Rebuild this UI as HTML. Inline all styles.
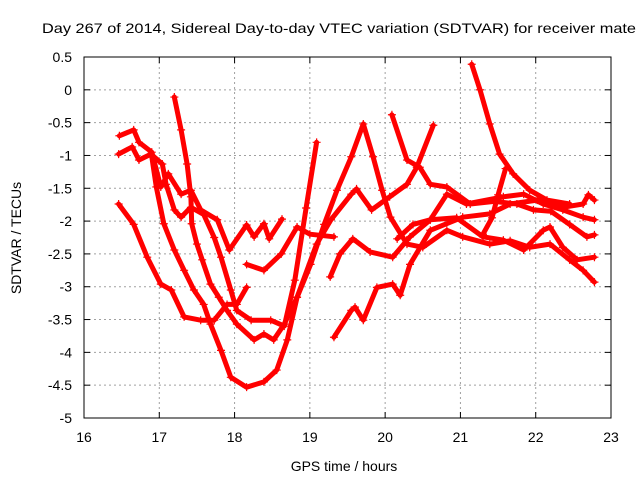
<!DOCTYPE html>
<html><head><meta charset="utf-8"><style>
html,body{margin:0;padding:0;background:#fff;}
svg{display:block;font-family:"Liberation Sans",sans-serif;}
</style></head><body>
<svg id="chart" width="640" height="480" viewBox="0 0 640 480" xmlns="http://www.w3.org/2000/svg">
<rect width="640" height="480" fill="#fff"/>
<text x="42" y="33" font-size="14" textLength="594" lengthAdjust="spacingAndGlyphs">Day 267 of 2014, Sidereal Day-to-day VTEC variation (SDTVAR) for receiver mate</text>
<g id="grid"></g>
<g id="ticks"></g>
<g id="series"></g>
<rect x="84" y="57" width="527" height="361" fill="none" stroke="#000" stroke-width="1"/>
<text x="344" y="471" font-size="14" text-anchor="middle">GPS time / hours</text>
<text transform="translate(21,238) rotate(-90)" font-size="14" text-anchor="middle">SDTVAR / TECUs</text>
</svg>
<script>
const xTicks=[16,17,18,19,20,21,22,23];
const yTicks=[0.5,0,-0.5,-1,-1.5,-2,-2.5,-3,-3.5,-4,-4.5,-5];
const track1T=[16.47,16.66,16.73,16.9,17.02,17.12,17.29,17.42,17.55,17.77,17.93,18.16,18.26,18.39,18.46,18.63];
const track1V=[-0.7,-0.61,-0.8,-0.95,-1.48,-1.28,-1.59,-1.53,-1.83,-1.98,-2.44,-2.06,-2.24,-2.04,-2.27,-1.97];
const track2T=[16.46,16.64,16.73,16.89,17.04,17.09,17.2,17.29,17.42,17.59,17.73,17.82,17.95,18.03,18.22,18.48,18.66,18.8,18.95,19.09];
const track2V=[-0.98,-0.87,-1.07,-0.98,-1.13,-1.44,-1.83,-1.94,-1.79,-1.9,-2.25,-2.55,-3.05,-3.36,-3.51,-3.51,-3.6,-2.9,-1.8,-0.8];
const track3T=[17.2,17.29,17.37,17.42,17.43,17.5,17.57,17.68,17.79,17.9,18.03,18.26,18.39,18.52,18.66,18.83,19.01,19.19,19.36,19.55,19.71,19.84,19.96,20.07,20.29,20.5,20.82,21.03,21.39,21.66,21.92,22.19,22.45,22.63,22.78];
const track3V=[-0.11,-0.61,-1.13,-1.63,-2.04,-2.35,-2.59,-2.96,-3.16,-3.36,-3.57,-3.81,-3.72,-3.81,-3.57,-3.16,-2.66,-2.05,-1.53,-1.02,-0.52,-1.02,-1.53,-1.94,-2.35,-2.4,-2.14,-2.24,-2.35,-2.3,-2.4,-2.35,-2.59,-2.75,-2.93];
const track4T=[16.46,16.66,16.84,17.02,17.16,17.33,17.55,17.73,17.9,18.03,18.16];
const track4V=[-1.74,-2.05,-2.55,-2.96,-3.05,-3.46,-3.51,-3.51,-3.27,-3.27,-3.01];
const track5T=[16.9,16.96,17.06,17.2,17.33,17.46,17.59,17.68,17.82,17.95,18.16,18.39,18.56,18.7,18.83,19.09,19.28,19.55,19.62,19.82,20.06,20.29,20.42,20.64];
const track5V=[-1.02,-1.48,-2.04,-2.44,-2.75,-3.05,-3.27,-3.57,-3.97,-4.38,-4.53,-4.45,-4.27,-3.81,-3.16,-2.35,-1.98,-1.59,-1.51,-1.83,-1.63,-1.44,-1.18,-0.54];
const track6T=[18.16,18.39,18.62,18.83,19.0,19.32];
const track6V=[-2.66,-2.75,-2.5,-2.09,-2.2,-2.24];
const track7T=[19.32,19.55,19.6,19.71,19.89,20.1,20.2,20.33,20.6,21.03,21.39,21.66,22.02,22.36,22.63,22.7,22.78];
const track7V=[-3.77,-3.36,-3.31,-3.51,-3.01,-2.96,-3.13,-2.66,-2.14,-1.94,-1.89,-1.74,-1.68,-1.79,-1.74,-1.6,-1.68];
const track8T=[19.27,19.4,19.57,19.8,20.1,20.33,20.6,20.82,21.08,21.57,21.84,22.1,22.36,22.63,22.78];
const track8V=[-2.85,-2.5,-2.27,-2.47,-2.55,-2.24,-1.98,-1.59,-1.74,-1.63,-1.59,-1.74,-1.83,-1.94,-1.98];
const track9T=[20.09,20.29,20.46,20.6,20.82,21.13,21.45,21.75,21.97,22.2,22.45,22.68,22.78];
const track9V=[-0.38,-1.07,-1.18,-1.44,-1.48,-1.74,-1.7,-1.74,-1.83,-1.85,-2.05,-2.24,-2.21];
const track10T=[21.15,21.26,21.39,21.52,21.7,21.92,22.15,22.45];
const track10V=[0.39,0.0,-0.52,-0.98,-1.28,-1.53,-1.68,-1.74];
const track11T=[20.16,20.37,20.6,20.95,21.3,21.57,21.84,22.1,22.19,22.36,22.55,22.78];
const track11V=[-2.27,-2.05,-1.98,-1.95,-2.24,-2.29,-2.44,-2.14,-2.09,-2.4,-2.59,-2.55];
const track12T=[21.6,21.5,21.42,21.3];
const track12V=[-1.2,-1.6,-1.95,-2.2];
const tracksT=[track1T,track2T,track3T,track4T,track5T,track6T,track7T,track8T,track9T,track10T,track11T,track12T];
const tracksV=[track1V,track2V,track3V,track4V,track5V,track6V,track7V,track8V,track9V,track10V,track11V,track12V];

const X0=84,X1=611,Y0=418,Y1=57,XMIN=16,XMAX=23,YMIN=-5,YMAX=0.5;
function xs(t){return X0+(t-XMIN)/(XMAX-XMIN)*(X1-X0);}
function ys(v){return Y0-(v-YMIN)/(YMAX-YMIN)*(Y0-Y1);}
const NS='http://www.w3.org/2000/svg';
function mk(tag,attrs,parent){const e=document.createElementNS(NS,tag);for(const k in attrs)e.setAttribute(k,attrs[k]);parent.appendChild(e);return e;}
const grid=document.getElementById('grid'),ticks=document.getElementById('ticks'),ser=document.getElementById('series');
xTicks.forEach(t=>{const x=xs(t);
 if(t>XMIN&&t<XMAX){const g=mk('line',{x1:x,x2:x,y1:Y1,y2:Y0,stroke:'#a0a0a0','stroke-dasharray':'2,3'},grid);
 
 }
 const a=mk('line',{x1:x,x2:x,y1:Y0,y2:Y0-6,stroke:'#000'},ticks);
 
 
 const b=mk('line',{x1:x,x2:x,y1:Y1,y2:Y1+6,stroke:'#000'},ticks);
 
 
 const l=mk('text',{x:x,y:442,'font-size':14,'text-anchor':'middle'},ticks);l.textContent=t;
 
 });
yTicks.forEach(v=>{const y=ys(v);
 if(v>YMIN&&v<YMAX){const g=mk('line',{x1:X0,x2:X1,y1:y,y2:y,stroke:'#a0a0a0','stroke-dasharray':'2,3'},grid);
 
 }
 const a=mk('line',{x1:X0,x2:X0+6,y1:y,y2:y,stroke:'#000'},ticks);
 
 
 const b=mk('line',{x1:X1,x2:X1-6,y1:y,y2:y,stroke:'#000'},ticks);
 
 
 const l=mk('text',{x:X0-12,y:y+5,'font-size':14,'text-anchor':'end'},ticks);l.textContent=v;
 
 });
tracksT.forEach((T,i)=>{const V=tracksV[i];
 const pts=T.map((t,j)=>xs(t).toFixed(1)+','+ys(V[j]).toFixed(1)).join(' ');
 const pl=mk('polyline',{points:pts,fill:'none',stroke:'#ff0000','stroke-width':5,'stroke-linejoin':'round','stroke-linecap':'round'},ser);
 
 
 T.forEach((t,j)=>{const x=xs(t),y=ys(V[j]);
  const p=mk('path',{d:`M${x-4},${y}h8M${x},${y-4}v8`,stroke:'#ff0000','stroke-width':1.2},ser);
  
  });});
</script>
</body></html>
